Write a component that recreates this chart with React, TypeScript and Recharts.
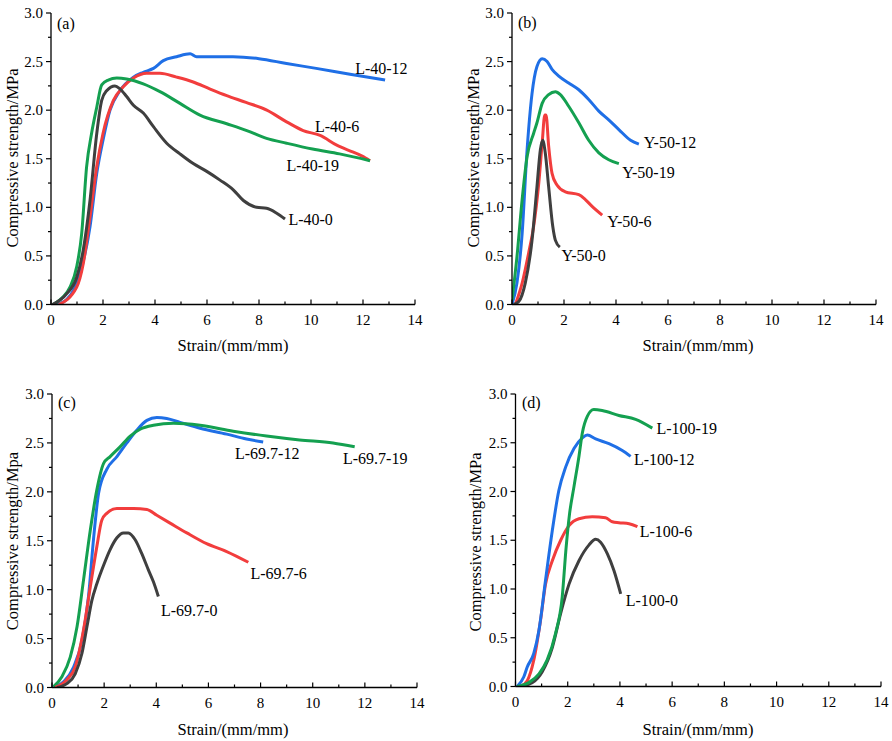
import React from 'react';
import { LineChart, Line, XAxis, YAxis, ReferenceDot } from 'recharts';

type Pt = [number, number];

// ---------- Panel (a) ----------
const A_L40_0: Pt[] = [[0.05,0],[0.6,0.11],[0.99,0.28],[1.24,0.56],[1.5,1.07],[1.76,1.76],[1.95,2.1],[2.14,2.2],[2.46,2.25],[2.65,2.22],[2.91,2.14],[3.17,2.05],[3.55,1.97],[3.94,1.83],[4.45,1.66],[4.96,1.55],[5.47,1.45],[5.99,1.37],[6.5,1.28],[7.01,1.18],[7.4,1.07],[7.91,1.0],[8.29,0.99],[8.68,0.94],[9.0,0.88]];
const A_L40_6: Pt[] = [[0.3,0],[0.99,0.18],[1.24,0.42],[1.5,0.9],[1.76,1.42],[2.0,1.76],[2.4,2.1],[2.78,2.24],[3.17,2.33],[3.68,2.38],[4.19,2.38],[4.83,2.34],[5.47,2.29],[6.1,2.22],[6.76,2.15],[7.5,2.08],[8.3,2.0],[9.06,1.88],[9.7,1.79],[10.35,1.74],[10.99,1.64],[11.6,1.57],[11.95,1.53],[12.27,1.48]];
const A_L40_12: Pt[] = [[0.2,0],[0.6,0.05],[1.12,0.32],[1.5,0.8],[1.76,1.35],[2.0,1.69],[2.27,2.0],[2.65,2.2],[3.17,2.34],[3.55,2.39],[3.94,2.43],[4.32,2.51],[4.83,2.55],[5.35,2.58],[5.6,2.55],[7.0,2.55],[8.0,2.53],[9.06,2.48],[10.2,2.43],[11.5,2.37],[12.85,2.31]];
const A_L40_19: Pt[] = [[0.09,0],[0.47,0.08],[0.73,0.18],[0.99,0.39],[1.18,0.73],[1.37,1.42],[1.56,1.76],[1.76,2.03],[1.95,2.26],[2.2,2.31],[2.53,2.33],[2.91,2.32],[3.55,2.27],[4.19,2.19],[4.96,2.07],[5.73,1.95],[6.76,1.86],[7.53,1.79],[8.29,1.71],[9.06,1.66],[10.06,1.6],[11.1,1.55],[12.27,1.48]];

// ---------- Panel (b) ----------
const B_Y50_0: Pt[] = [[0.06,0],[0.26,0.03],[0.51,0.22],[0.77,0.66],[0.96,1.21],[1.09,1.59],[1.18,1.69],[1.28,1.56],[1.41,1.21],[1.57,0.8],[1.67,0.66],[1.84,0.59]];
const B_Y50_6: Pt[] = [[0.13,0],[0.39,0.22],[0.64,0.53],[0.83,0.8],[1.03,1.25],[1.16,1.66],[1.26,1.95],[1.31,1.95],[1.41,1.63],[1.54,1.35],[1.73,1.23],[2.05,1.16],[2.57,1.13],[2.82,1.08],[3.08,1.01],[3.47,0.92]];
const B_Y50_12: Pt[] = [[0,0],[0.19,0.22],[0.39,0.73],[0.58,1.59],[0.77,2.17],[0.96,2.45],[1.16,2.53],[1.35,2.5],[1.54,2.42],[1.8,2.35],[2.18,2.28],[2.57,2.21],[2.95,2.11],[3.34,1.99],[3.72,1.9],[4.11,1.8],[4.56,1.69],[4.88,1.65]];
const B_Y50_19: Pt[] = [[0,0.04],[0.19,0.49],[0.39,1.08],[0.58,1.52],[0.83,1.76],[0.96,1.87],[1.16,2.07],[1.41,2.16],[1.67,2.19],[1.86,2.16],[2.18,2.04],[2.57,1.87],[2.95,1.69],[3.34,1.56],[3.72,1.49],[4.11,1.45]];

// ---------- Panel (c) ----------
const C_L697_0: Pt[] = [[0.19,0],[0.57,0.04],[0.89,0.14],[1.15,0.35],[1.34,0.62],[1.53,0.89],[1.72,1.06],[1.98,1.25],[2.23,1.41],[2.49,1.53],[2.74,1.58],[2.93,1.58],[3.19,1.51],[3.44,1.37],[3.7,1.2],[3.89,1.08],[4.08,0.93]];
const C_L697_6: Pt[] = [[0.13,0],[0.57,0.08],[0.89,0.21],[1.21,0.59],[1.47,1.03],[1.72,1.44],[1.91,1.71],[2.1,1.78],[2.49,1.83],[3.13,1.83],[3.64,1.82],[4.02,1.76],[4.53,1.68],[5.17,1.58],[5.93,1.47],[6.7,1.39],[7.53,1.28]];
const C_L697_12: Pt[] = [[0.06,0],[0.45,0.06],[0.83,0.21],[1.15,0.48],[1.4,0.93],[1.59,1.51],[1.79,1.99],[2.1,2.23],[2.49,2.36],[2.87,2.5],[3.25,2.63],[3.64,2.73],[4.02,2.76],[4.4,2.75],[4.91,2.71],[5.68,2.65],[6.7,2.59],[7.46,2.54],[8.1,2.51]];
const C_L697_19: Pt[] = [[0.06,0.01],[0.38,0.11],[0.7,0.31],[0.96,0.62],[1.21,1.1],[1.47,1.61],[1.72,2.02],[1.98,2.29],[2.23,2.36],[2.61,2.46],[3.0,2.57],[3.38,2.64],[3.89,2.68],[4.66,2.7],[5.68,2.68],[6.95,2.62],[8.23,2.57],[9.5,2.53],[10.78,2.5],[11.61,2.46]];

// ---------- Panel (d) ----------
const D_L100_0: Pt[] = [[0.13,0],[0.64,0.04],[1.02,0.15],[1.41,0.4],[1.73,0.75],[2.05,1.05],[2.43,1.29],[2.81,1.45],[3.07,1.51],[3.26,1.48],[3.52,1.36],[3.77,1.19],[4.03,0.95]];
const D_L100_6: Pt[] = [[0.19,0],[0.45,0.06],[0.7,0.27],[0.96,0.68],[1.15,1.05],[1.41,1.29],[1.73,1.5],[2.05,1.65],[2.43,1.72],[2.94,1.74],[3.45,1.73],[3.71,1.69],[3.96,1.68],[4.35,1.67],[4.67,1.64]];
const D_L100_12: Pt[] = [[0.06,0],[0.32,0.1],[0.45,0.2],[0.7,0.34],[0.9,0.58],[1.15,1.09],[1.41,1.6],[1.66,2.01],[1.92,2.25],[2.24,2.44],[2.56,2.55],[2.75,2.58],[3.07,2.54],[3.58,2.49],[4.09,2.42],[4.41,2.36]];
const D_L100_19: Pt[] = [[0.06,0],[0.51,0.04],[0.9,0.13],[1.21,0.27],[1.53,0.54],[1.79,0.92],[1.94,1.43],[2.07,1.77],[2.24,2.05],[2.43,2.36],[2.56,2.6],[2.75,2.77],[3.0,2.84],[3.32,2.83],[3.96,2.78],[4.6,2.74],[5.24,2.65]];

// ---------- Curve labels [text, x, y] ----------
const A_LABELS: [string, number, number][] = [['L-40-12', 11.7, 2.43], ['L-40-6', 10.15, 1.83], ['L-40-19', 9.06, 1.43], ['L-40-0', 9.13, 0.87]];
const B_LABELS: [string, number, number][] = [['Y-50-12', 5.07, 1.67], ['Y-50-19', 4.24, 1.36], ['Y-50-6', 3.66, 0.85], ['Y-50-0', 1.9, 0.5]];
const C_LABELS: [string, number, number][] = [['L-69.7-12', 7.02, 2.39], ['L-69.7-19', 11.16, 2.34], ['L-69.7-6', 7.61, 1.17], ['L-69.7-0', 4.18, 0.79]];
const D_LABELS: [string, number, number][] = [['L-100-19', 5.4, 2.65], ['L-100-12', 4.54, 2.33], ['L-100-6', 4.76, 1.59], ['L-100-0', 4.22, 0.88]];

const X_TICKS = [0, 1, 2, 3, 4, 5, 6, 7, 8, 9, 10, 11, 12, 13, 14];
const Y_TICKS = [0, 0.25, 0.5, 0.75, 1, 1.25, 1.5, 1.75, 2, 2.25, 2.5, 2.75, 3];

const FONT = '"Liberation Serif", "Times New Roman", serif';
const COL0 = '#3f3f3f';
const COL6 = '#f23d3d';
const COL12 = '#1f6fe6';
const COL19 = '#14a050';

const toObj = (p: Pt[]) => p.map(([x, y]) => ({ x, y }));

const XTick = (props: any) => {
  const { x, y, payload } = props;
  const v = payload.value;
  const major = v % 2 === 0;
  return (
    <g>
      <line x1={x} x2={x} y1={y} y2={y - (major ? 5 : 3)} stroke="#000" strokeWidth={1.2} />
      {major && (
        <text x={x} y={y + 20} textAnchor="middle" fontSize={15} fontFamily={FONT} fill="#000">{v}</text>
      )}
    </g>
  );
};

const YTick = (props: any) => {
  const { x, y, payload } = props;
  const v = payload.value;
  const major = Math.abs(v * 2 - Math.round(v * 2)) < 1e-6;
  return (
    <g>
      <line x1={x - (major ? 5 : 3)} x2={x} y1={y} y2={y} stroke="#000" strokeWidth={1.2} />
      {major && (
        <text x={x - 8} y={y + 5} textAnchor="end" fontSize={15} fontFamily={FONT} fill="#000">{v.toFixed(1)}</text>
      )}
    </g>
  );
};

type Series = { key: string; color: string; pts: Pt[] };

type PanelProps = {
  left: number; top: number; width: number; height: number;
  yAxisW: number; mTop: number; mRight: number; mBottom: number;
  series: Series[]; labels: [string, number, number][];
  tag: string; tagX: number; tagY: number;
  yTitle: string; yTitleX: number; yTitleY: number;
  xTitleX: number; xTitleY: number;
};

const Panel = (p: PanelProps) => (
  <>
    <div style={{ position: 'absolute', left: p.left, top: p.top }}>
      <LineChart width={p.width} height={p.height} margin={{ top: p.mTop, right: p.mRight, bottom: p.mBottom, left: 0 }}>
        <XAxis dataKey="x" type="number" domain={[0, 14]} ticks={X_TICKS} interval={0} allowDataOverflow
          tickSize={0} tickMargin={0} tickLine={false} tick={XTick} height={30}
          axisLine={{ stroke: '#000', strokeWidth: 1.3 }} />
        <YAxis type="number" domain={[0, 3]} ticks={Y_TICKS} interval={0} allowDataOverflow
          tickSize={0} tickMargin={0} tickLine={false} tick={YTick} width={p.yAxisW}
          axisLine={{ stroke: '#000', strokeWidth: 1.3 }} />
        {p.series.map((s) => (
          <Line key={s.key} data={toObj(s.pts)} dataKey="y" type="monotone" stroke={s.color}
            strokeWidth={3} dot={false} activeDot={false} isAnimationActive={false} />
        ))}
        {p.labels.map(([t, x, y]) => (
          <ReferenceDot key={t} x={x} y={y} r={0} ifOverflow="visible"
            shape={(sp: any) => (
              <text x={sp.cx} y={sp.cy} dominantBaseline="central" fontSize={16} fontFamily={FONT} fill="#000">{t}</text>
            )} />
        ))}
      </LineChart>
    </div>
    <div style={{ position: 'absolute', left: p.tagX, top: p.tagY, transform: 'translateY(-50%)', fontFamily: FONT, fontSize: 16, lineHeight: 1 }}>{p.tag}</div>
    <div style={{ position: 'absolute', left: p.yTitleX, top: p.yTitleY, transform: 'translate(-50%,-50%) rotate(-90deg)', fontFamily: FONT, fontSize: 16.5, lineHeight: 1, whiteSpace: 'nowrap' }}>{p.yTitle}</div>
    <div style={{ position: 'absolute', left: p.xTitleX, top: p.xTitleY, transform: 'translate(-50%,-50%)', fontFamily: FONT, fontSize: 16.5, lineHeight: 1, whiteSpace: 'nowrap' }}>Strain/(mm/mm)</div>
  </>
);

export default function App() {
  return (
    <div style={{ position: 'absolute', left: 0, top: 0, width: 892, height: 741, background: '#fff', overflow: 'hidden' }}>
      <Panel left={0} top={0} width={446} height={340} yAxisW={51} mTop={13} mRight={31} mBottom={5.5}
        series={[
          { key: 'a12', color: COL12, pts: A_L40_12 },
          { key: 'a6', color: COL6, pts: A_L40_6 },
          { key: 'a19', color: COL19, pts: A_L40_19 },
          { key: 'a0', color: COL0, pts: A_L40_0 },
        ]}
        labels={A_LABELS} tag="(a)" tagX={57} tagY={24}
        yTitle="Compressive strength/MPa" yTitleX={13} yTitleY={158} xTitleX={233} xTitleY={346} />
      <Panel left={446} top={0} width={446} height={340} yAxisW={66} mTop={13} mRight={16} mBottom={5.5}
        series={[
          { key: 'b12', color: COL12, pts: B_Y50_12 },
          { key: 'b19', color: COL19, pts: B_Y50_19 },
          { key: 'b6', color: COL6, pts: B_Y50_6 },
          { key: 'b0', color: COL0, pts: B_Y50_0 },
        ]}
        labels={B_LABELS} tag="(b)" tagX={518} tagY={23}
        yTitle="Compressive strength/MPa" yTitleX={474} yTitleY={158} xTitleX={698} xTitleY={346} />
      <Panel left={0} top={380} width={446} height={361} yAxisW={52} mTop={14} mRight={29} mBottom={23.5}
        series={[
          { key: 'c12', color: COL12, pts: C_L697_12 },
          { key: 'c19', color: COL19, pts: C_L697_19 },
          { key: 'c6', color: COL6, pts: C_L697_6 },
          { key: 'c0', color: COL0, pts: C_L697_0 },
        ]}
        labels={C_LABELS} tag="(c)" tagX={58} tagY={403}
        yTitle="Compressive strength/Mpa" yTitleX={13} yTitleY={541} xTitleX={233} xTitleY={730} />
      <Panel left={446} top={380} width={446} height={361} yAxisW={69.5} mTop={14} mRight={11} mBottom={24.5}
        series={[
          { key: 'd6', color: COL6, pts: D_L100_6 },
          { key: 'd0', color: COL0, pts: D_L100_0 },
          { key: 'd12', color: COL12, pts: D_L100_12 },
          { key: 'd19', color: COL19, pts: D_L100_19 },
        ]}
        labels={D_LABELS} tag="(d)" tagX={522} tagY={403}
        yTitle="Compressive strength/MPa" yTitleX={476} yTitleY={542} xTitleX={698} xTitleY={730} />
    </div>
  );
}
